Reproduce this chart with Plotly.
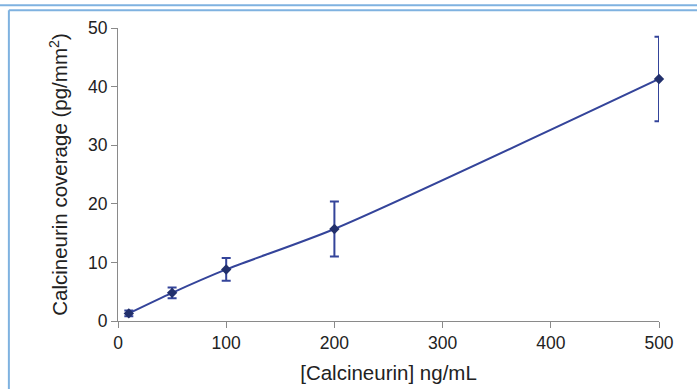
import plotly.graph_objects as go

conc = [10, 50, 100, 200, 500]
coverage = [1.3, 4.8, 8.8, 15.7, 41.3]
err = [0.5, 0.9, 1.95, 4.7, 7.2]
x_ticks = [0, 100, 200, 300, 400, 500]
y_ticks = [0, 10, 20, 30, 40, 50]

line_col = "#34449a"
fig = go.Figure()
fig.add_trace(go.Scatter(
    x=conc, y=coverage, mode="lines+markers",
    line=dict(color=line_col, width=2, shape="spline", smoothing=0.7),
    marker=dict(symbol="diamond", size=8, color="#22306c"),
    error_y=dict(type="data", array=err, visible=True, color=line_col, thickness=2, width=4.5),
    showlegend=False, cliponaxis=False,
))

axis_col = "#8a8a8a"
font_fam = "Liberation Sans, Arial, sans-serif"
fig.update_layout(
    width=697, height=389,
    margin=dict(l=118, r=38, t=28, b=68),
    paper_bgcolor="white", plot_bgcolor="white",
    font=dict(family=font_fam, color="#222222", size=17.5),
    xaxis=dict(range=[0, 500], tickvals=x_ticks, showgrid=False, zeroline=False,
               showline=True, linecolor=axis_col, linewidth=1.2, automargin=False,
               ticks="outside", ticklen=6, tickcolor=axis_col,
               tickfont=dict(size=17.5),
               title=dict(text="[Calcineurin] ng/mL", font=dict(size=20.5), standoff=13)),
    yaxis=dict(range=[0, 50], tickvals=y_ticks, showgrid=False, zeroline=False,
               showline=True, linecolor=axis_col, linewidth=1.2, automargin=False,
               ticks="outside", ticklen=6, tickcolor=axis_col,
               tickfont=dict(size=17.5),
               title=dict(text="Calcineurin coverage (pg/mm<sup>2</sup>)", font=dict(size=20.5), standoff=14)),
)

border_col = "#7fb2e0"
fig.add_shape(type="line", xref="paper", yref="paper", x0=-0.25, x1=1.08, y0=1.0776, y1=1.0776,
              line=dict(color=border_col, width=2))
fig.add_shape(type="line", xref="paper", yref="paper", x0=-0.2017, x1=1.08, y0=1.0605, y1=1.0605,
              line=dict(color=border_col, width=2))
fig.add_shape(type="line", xref="paper", yref="paper", x0=-0.2017, x1=-0.2017, y0=-0.25, y1=1.0605,
              line=dict(color=border_col, width=2))

fig.write_html("out.html", config={"displayModeBar": False},
               post_script="document.body.style.margin='0px';")
